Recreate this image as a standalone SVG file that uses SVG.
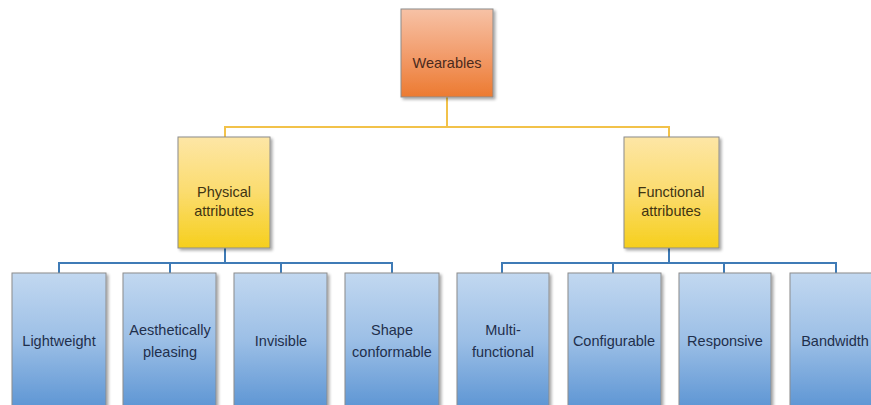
<svg xmlns="http://www.w3.org/2000/svg" width="871" height="405" viewBox="0 0 871 405">
  <defs>
    <linearGradient id="gOrange" x1="0" y1="0" x2="0" y2="1">
      <stop offset="0" stop-color="#f7c2a6"/>
      <stop offset="0.55" stop-color="#f29a68"/>
      <stop offset="1" stop-color="#ec7a30"/>
    </linearGradient>
    <linearGradient id="gYellow" x1="0" y1="0" x2="0" y2="1">
      <stop offset="0" stop-color="#fde6a6"/>
      <stop offset="0.5" stop-color="#fbdc6e"/>
      <stop offset="1" stop-color="#f6cf1c"/>
    </linearGradient>
    <linearGradient id="gBlue" x1="0" y1="0" x2="0" y2="1">
      <stop offset="0" stop-color="#c2d8f0"/>
      <stop offset="0.5" stop-color="#9cbfe6"/>
      <stop offset="1" stop-color="#5e96d4"/>
    </linearGradient>
    <filter id="shadow" x="-10%" y="-10%" width="125%" height="125%">
      <feGaussianBlur in="SourceAlpha" stdDeviation="1.5"/>
      <feOffset dx="1.5" dy="2" result="b"/>
      <feComponentTransfer><feFuncA type="linear" slope="0.35"/></feComponentTransfer>
      <feMerge><feMergeNode/><feMergeNode in="SourceGraphic"/></feMerge>
    </filter>
  </defs>
  <style>
    .box { stroke: #8c8c8c; stroke-width: 1; filter: url(#shadow); }
    .orange { fill: url(#gOrange); }
    .yellow { fill: url(#gYellow); }
    .blue { fill: url(#gBlue); }
    text { font-family: "Liberation Sans", Arial, sans-serif; font-size: 14.5px; text-anchor: middle; }
    .tOrange { fill: #4b2a1c; }
    .tYellow { fill: #3f3412; }
    .tBlue { fill: #1f2f4c; }
    .yl { stroke: #f2c24a; stroke-width: 2; fill: none; }
    .bl { stroke: #3f7bb6; stroke-width: 2; fill: none; }
  </style>

  <!-- connectors -->
  <g id="connectors">
    <path class="yl" d="M447 97 V127 M225 137 V127 H669 V137"/>
    <path class="bl" d="M225 248 V263 M59 273 V263 H392 V273 M170 263 V273 M281 263 V273"/>
    <path class="bl" d="M669 248 V263 M502 273 V263 H836 V273 M613 263 V273 M724 263 V273"/>
  </g>

  <g id="wearables">
    <rect class="box orange" x="401" y="9" width="92" height="88"/>
    <text class="tOrange" x="447" y="68">Wearables</text>
  </g>

  <g id="physical">
    <rect class="box yellow" x="178" y="137" width="92" height="111"/>
    <text class="tYellow" x="224" y="197">Physical</text>
    <text class="tYellow" x="224" y="216">attributes</text>
  </g>

  <g id="functional">
    <rect class="box yellow" x="624" y="137" width="95" height="111"/>
    <text class="tYellow" x="671" y="197">Functional</text>
    <text class="tYellow" x="671" y="216">attributes</text>
  </g>

  <g id="lightweight">
    <rect class="box blue" x="12" y="273" width="94" height="134"/>
    <text class="tBlue" x="59" y="346">Lightweight</text>
  </g>
  <g id="aesthetically-pleasing">
    <rect class="box blue" x="123" y="273" width="93" height="134"/>
    <text class="tBlue" x="170" y="335">Aesthetically</text>
    <text class="tBlue" x="170" y="357">pleasing</text>
  </g>
  <g id="invisible">
    <rect class="box blue" x="234" y="273" width="93" height="134"/>
    <text class="tBlue" x="281" y="346">Invisible</text>
  </g>
  <g id="shape-conformable">
    <rect class="box blue" x="345" y="273" width="94" height="134"/>
    <text class="tBlue" x="392" y="335">Shape</text>
    <text class="tBlue" x="392" y="357">conformable</text>
  </g>
  <g id="multi-functional">
    <rect class="box blue" x="457" y="273" width="92" height="134"/>
    <text class="tBlue" x="503" y="335">Multi-</text>
    <text class="tBlue" x="503" y="357">functional</text>
  </g>
  <g id="configurable">
    <rect class="box blue" x="568" y="273" width="93" height="134"/>
    <text class="tBlue" x="614" y="346">Configurable</text>
  </g>
  <g id="responsive">
    <rect class="box blue" x="679" y="273" width="92" height="134"/>
    <text class="tBlue" x="725" y="346">Responsive</text>
  </g>
  <g id="bandwidth">
    <rect class="box blue" x="790" y="273" width="94" height="134"/>
    <text class="tBlue" x="835" y="346">Bandwidth</text>
  </g>
</svg>
